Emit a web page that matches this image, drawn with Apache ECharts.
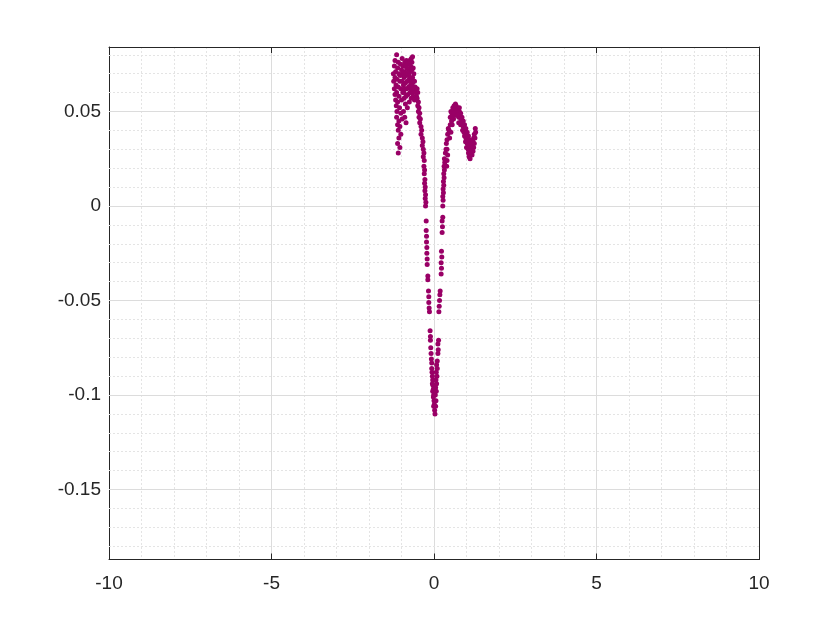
<!DOCTYPE html>
<html><head><meta charset="utf-8">
<script src="https://cdn.jsdelivr.net/npm/echarts@6/dist/echarts.min.js"></script>
<style>html,body{margin:0;padding:0;background:#fff}#c{width:840px;height:630px}</style>
</head><body><div id="c"></div>
<script>
const xTicks = [-10, -5, 0, 5, 10];
const yTicks = [-0.15, -0.1, -0.05, 0, 0.05];
const yMinor = [-0.18,-0.17,-0.16,-0.14,-0.13,-0.12,-0.11,-0.09,-0.08,-0.07,-0.06,-0.04,-0.03,-0.02,-0.01,0.01,0.02,0.03,0.04,0.06,0.07,0.08];
const yRange = [-0.187, 0.0841];
const xRange = [-10, 10];

const points = [
// left column of left cluster
[-1.15,0.080],[-1.20,0.077],[-1.10,0.076],[-1.22,0.074],[-1.12,0.073],[-1.18,0.071],[-1.25,0.070],[-1.08,0.070],
[-1.20,0.068],[-1.14,0.067],[-1.24,0.066],[-1.05,0.066],[-1.17,0.064],[-1.10,0.063],[-1.22,0.062],[-1.02,0.062],
[-1.15,0.060],[-1.20,0.059],[-1.08,0.058],[-1.18,0.056],[-1.12,0.055],[-1.00,0.056],[-1.16,0.053],[-1.06,0.052],
[-1.14,0.050],[-1.02,0.049],[-1.15,0.047],[-1.08,0.045],[-1.12,0.043],[-1.05,0.042],[-1.10,0.040],[-1.02,0.038],
[-1.08,0.036],[-1.12,0.033],[-1.05,0.031],[-1.10,0.028],
// dense blob
[-0.95,0.074],[-0.90,0.076],[-0.85,0.077],[-0.80,0.075],[-0.75,0.077],[-0.70,0.078],[-0.66,0.079],[-0.68,0.076],
[-0.72,0.074],[-0.78,0.072],[-0.84,0.073],[-0.90,0.071],[-0.96,0.070],[-1.00,0.072],[-0.92,0.068],[-0.86,0.069],
[-0.80,0.070],[-0.74,0.071],[-0.68,0.072],[-0.64,0.073],[-0.62,0.070],[-0.66,0.068],[-0.70,0.066],[-0.76,0.067],
[-0.82,0.066],[-0.88,0.065],[-0.94,0.064],[-0.98,0.066],[-0.90,0.062],[-0.84,0.062],[-0.78,0.063],[-0.72,0.064],
[-0.66,0.065],[-0.60,0.066],[-0.58,0.063],[-0.62,0.061],[-0.68,0.060],[-0.74,0.060],[-0.80,0.059],[-0.86,0.058],
[-0.92,0.057],[-0.96,0.060],[-0.70,0.057],[-0.64,0.058],[-0.56,0.060],[-0.54,0.058],[-0.60,0.056],[-0.76,0.055],
[-0.88,0.054],[-0.82,0.052],[-0.94,0.050],[-0.90,0.047],[-0.86,0.044],[-0.98,0.046],[-1.03,0.075],[-0.98,0.078],
[-0.87,0.074],[-0.77,0.069],[-0.71,0.062],[-0.65,0.063],[-0.93,0.060],[-1.04,0.069],
// strand going down (left vertical)
[-0.52,0.062],[-0.50,0.060],[-0.52,0.057],[-0.48,0.055],[-0.50,0.053],[-0.46,0.052],[-0.48,0.050],[-0.44,0.049],
[-0.46,0.047],[-0.42,0.046],[-0.44,0.044],[-0.40,0.042],[-0.38,0.040],[-0.40,0.038],[-0.36,0.036],[-0.34,0.034],
[-0.36,0.032],[-0.33,0.030],[-0.31,0.028],[-0.33,0.026],[-0.30,0.024],[-0.31,0.021],[-0.29,0.019],[-0.30,0.017],
[-0.28,0.014],[-0.29,0.012],[-0.27,0.010],[-0.28,0.008],[-0.26,0.006],[-0.27,0.004],[-0.25,0.002],[-0.26,0.000],
[-0.24,-0.008],[-0.24,-0.013],[-0.23,-0.016],[-0.23,-0.019],[-0.22,-0.022],[-0.22,-0.025],[-0.21,-0.028],[-0.21,-0.031],
[-0.19,-0.037],[-0.19,-0.039],[-0.17,-0.045],[-0.16,-0.048],[-0.16,-0.051],[-0.15,-0.054],[-0.14,-0.056],
[-0.12,-0.066],[-0.11,-0.069],[-0.11,-0.071],[-0.10,-0.075],[-0.09,-0.078],[-0.08,-0.081],[-0.07,-0.083],[-0.07,-0.086],
[-0.06,-0.088],[-0.05,-0.090],[-0.04,-0.092],[-0.05,-0.094],[-0.03,-0.095],[-0.02,-0.097],[-0.04,-0.098],[-0.01,-0.100],
[-0.02,-0.101],[0.00,-0.103],[0.01,-0.105],[-0.01,-0.106],[0.02,-0.108],[0.03,-0.110],
// right vertical strand going up
[0.05,-0.106],[0.06,-0.103],[0.04,-0.100],[0.07,-0.098],[0.05,-0.096],[0.08,-0.094],[0.06,-0.092],[0.09,-0.090],
[0.07,-0.088],[0.10,-0.086],[0.08,-0.084],[0.10,-0.082],[0.12,-0.078],[0.13,-0.076],[0.12,-0.073],[0.14,-0.071],
[0.15,-0.056],[0.16,-0.053],[0.17,-0.050],[0.18,-0.047],[0.19,-0.045],
[0.22,-0.036],[0.23,-0.033],[0.22,-0.030],[0.24,-0.027],[0.23,-0.024],
[0.25,-0.014],[0.26,-0.011],[0.25,-0.008],[0.27,-0.006],
[0.27,0.000],[0.28,0.003],[0.27,0.005],[0.29,0.007],[0.28,0.009],[0.30,0.011],[0.29,0.013],[0.31,0.015],
[0.30,0.017],[0.32,0.019],[0.31,0.021],[0.33,0.023],[0.32,0.025],[0.35,0.028],[0.37,0.030],[0.38,0.033],
// rising part of right hump
[0.40,0.035],[0.42,0.038],[0.44,0.041],[0.46,0.040],[0.48,0.036],[0.50,0.043],[0.52,0.039],[0.54,0.045],
[0.50,0.047],[0.52,0.050],[0.55,0.049],[0.58,0.052],[0.60,0.051],[0.62,0.053],[0.65,0.052],[0.66,0.054],
[0.68,0.053],[0.70,0.050],[0.72,0.052],[0.64,0.048],[0.60,0.046],[0.56,0.043],[0.58,0.047],[0.62,0.049],
[0.40,0.030],[0.42,0.027],[0.40,0.024],[0.39,0.021],
// descending band
[0.74,0.051],[0.78,0.050],[0.76,0.047],[0.80,0.047],[0.84,0.046],[0.82,0.043],[0.86,0.043],[0.90,0.042],
[0.88,0.040],[0.92,0.039],[0.96,0.040],[0.94,0.037],[0.98,0.036],[1.00,0.038],[0.97,0.034],[1.02,0.033],
[1.04,0.035],[1.00,0.031],[1.05,0.030],[1.08,0.032],[1.06,0.028],[1.10,0.029],[1.08,0.026],[1.12,0.027],
[1.11,0.025],[1.14,0.028],[1.16,0.030],[1.18,0.032],[1.20,0.034],[1.22,0.031],[1.24,0.033],[1.26,0.036],
[1.24,0.038],[1.28,0.039],[1.27,0.041],[1.22,0.036],[1.20,0.029],[1.17,0.027],[1.15,0.031],[1.13,0.033],
[1.10,0.035],[1.06,0.037],[1.02,0.039],[0.98,0.041],[0.94,0.043],[0.90,0.045],[0.86,0.047],[0.82,0.049],
[0.78,0.052],[0.72,0.048],[0.76,0.044],[0.80,0.044]
];

const textColor = '#262626';
const font = {color: textColor, fontSize: 19, fontFamily: 'Liberation Sans, Arial, sans-serif'};

const chart = echarts.init(document.getElementById('c'));
chart.setOption({
  animation: false,
  backgroundColor: '#ffffff',
  grid: {left: 109, right: 81, top: 47, bottom: 70.5, containLabel: false},
  xAxis: [
    {type: 'value', position: 'bottom', min: xRange[0], max: xRange[1], interval: 5,
     axisLine: {show: true, onZero: false, lineStyle: {color: textColor, width: 1}},
     axisTick: {show: true, inside: true, length: 6, lineStyle: {color: textColor}},
     axisLabel: Object.assign({margin: 15}, font),
     splitLine: {show: true, lineStyle: {color: '#dcdcdc', width: 1}},
     minorTick: {show: false, splitNumber: 5},
     minorSplitLine: {show: true, lineStyle: {color: '#e4e4e4', type: [2, 2], width: 1}}
    },
    {type: 'value', position: 'top', min: xRange[0], max: xRange[1], interval: 5,
     axisLine: {show: true, onZero: false, lineStyle: {color: textColor, width: 1}},
     axisTick: {show: true, inside: true, length: 6, lineStyle: {color: textColor}},
     axisLabel: {show: false}, splitLine: {show: false}}
  ],
  yAxis: [
    {type: 'value', position: 'left', min: yRange[0], max: yRange[1],
     axisLine: {show: true, onZero: false, lineStyle: {color: textColor, width: 1}},
     axisTick: {show: true, inside: true, length: 6, lineStyle: {color: textColor}, customValues: yTicks},
     axisLabel: Object.assign({margin: 8, customValues: yTicks, formatter: v => String(+v.toFixed(3))}, font),
     splitLine: {show: false}
    },
    {type: 'value', position: 'right', min: yRange[0], max: yRange[1],
     axisLine: {show: true, onZero: false, lineStyle: {color: textColor, width: 1}},
     axisTick: {show: true, inside: true, length: 6, lineStyle: {color: textColor}, customValues: yTicks},
     axisLabel: {show: false}, splitLine: {show: false}}
  ],
  series: [
    {type: 'scatter', xAxisIndex: 0, yAxisIndex: 0, data: [], silent: true, z: 1,
     markLine: {silent: true, symbol: ['none', 'none'], label: {show: false}, animation: false, z: 1,
       data: yMinor.map(v => ({yAxis: v, lineStyle: {color: '#e4e4e4', type: [2, 2], width: 1}}))
         .concat(yTicks.map(v => ({yAxis: v, lineStyle: {color: '#dcdcdc', type: 'solid', width: 1}})))}
    },
    {type: 'scatter', xAxisIndex: 0, yAxisIndex: 0, data: points, symbolSize: 5, z: 5,
     itemStyle: {color: '#990066', opacity: 1}}
  ]
});
</script>
</body></html>
